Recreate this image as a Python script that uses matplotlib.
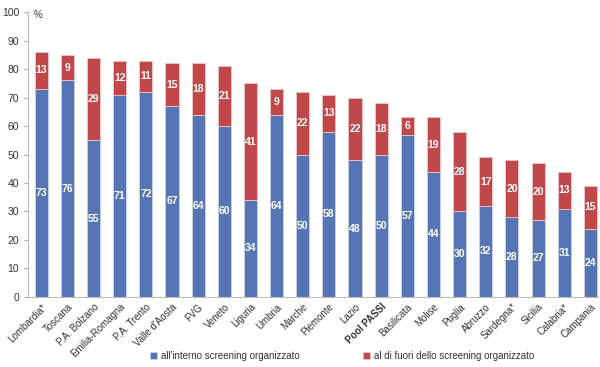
import numpy as np
import matplotlib
matplotlib.use('Agg')
import matplotlib.pyplot as plt

# data
regioni = ['Lombardia*', 'Toscana', 'P.A. Bolzano', 'Emilia-Romagna', 'P.A. Trento',
           "Valle d'Aosta", 'FVG', 'Veneto', 'Liguria', 'Umbria', 'Marche',
           'Piemonte', 'Lazio', 'Pool PASSI', 'Basilicata', 'Molise', 'Puglia',
           'Abruzzo', 'Sardegna*', 'Sicilia', 'Calabria*', 'Campania']
interno = [73, 76, 55, 71, 72, 67, 64, 60, 34, 64, 50, 58, 48, 50, 57, 44, 30, 32, 28, 27, 31, 24]
fuori = [13, 9, 29, 12, 11, 15, 18, 21, 41, 9, 22, 13, 22, 18, 6, 19, 28, 17, 20, 20, 13, 15]
yticks = [0, 10, 20, 30, 40, 50, 60, 70, 80, 90, 100]

col_blu = '#5675b4'
col_rosso = '#c0484a'
col_testo = '#333333'

plt.rcParams['font.family'] = ['Liberation Sans', 'DejaVu Sans']

fig = plt.figure(figsize=(6, 3.67), dpi=100)
ax = fig.add_axes([0.047, 0.191, 0.95, 0.776])

x = np.arange(len(regioni))
b1 = ax.bar(x, interno, width=0.5, color=col_blu, edgecolor='#c9d3ea', lw=0.6,
            label="all'interno screening organizzato")
b2 = ax.bar(x, fuori, width=0.5, bottom=interno, color=col_rosso, edgecolor='#f0c8c8', lw=0.6,
            label='al di fuori dello screening organizzato')

for i in range(len(regioni)):
    ax.text(x[i], interno[i] / 2, str(interno[i]), ha='center', va='center',
            color='white', fontsize=7.5, fontweight='bold')
    ax.text(x[i], interno[i] + fuori[i] / 2, str(fuori[i]), ha='center', va='center',
            color='white', fontsize=7.5, fontweight='bold')

ax.set_xlim(-0.5, 21.3)
ax.set_ylim(0, 100)
ax.set_yticks(yticks)
ax.tick_params(axis='y', labelsize=7.5, colors='#aaaaaa', labelcolor=col_testo, length=3, width=0.8)
ax.tick_params(axis='x', length=0)
ax.set_xticks(x)
ax.set_xticklabels(regioni, rotation=45, ha='right', rotation_mode='anchor',
                   fontsize=7, color=col_testo)
for lab in ax.get_xticklabels():
    if lab.get_text() == 'Pool PASSI':
        lab.set_fontweight('bold')
for s in ['top', 'right']:
    ax.spines[s].set_visible(False)
ax.spines['left'].set_color('#bbbbbb')
ax.spines['bottom'].set_color('#bbbbbb')
ax.text(-0.12, 99, '%', fontsize=7, color=col_testo, ha='center', va='center')

fig.legend(handles=[b1, b2], loc='center', bbox_to_anchor=(0.57, 0.03), ncol=2,
           frameon=False, fontsize=7, handlelength=0.7, handleheight=0.7,
           handletextpad=0.4, columnspacing=6.5, labelcolor=col_testo)

plt.savefig('out.png', dpi=100)
